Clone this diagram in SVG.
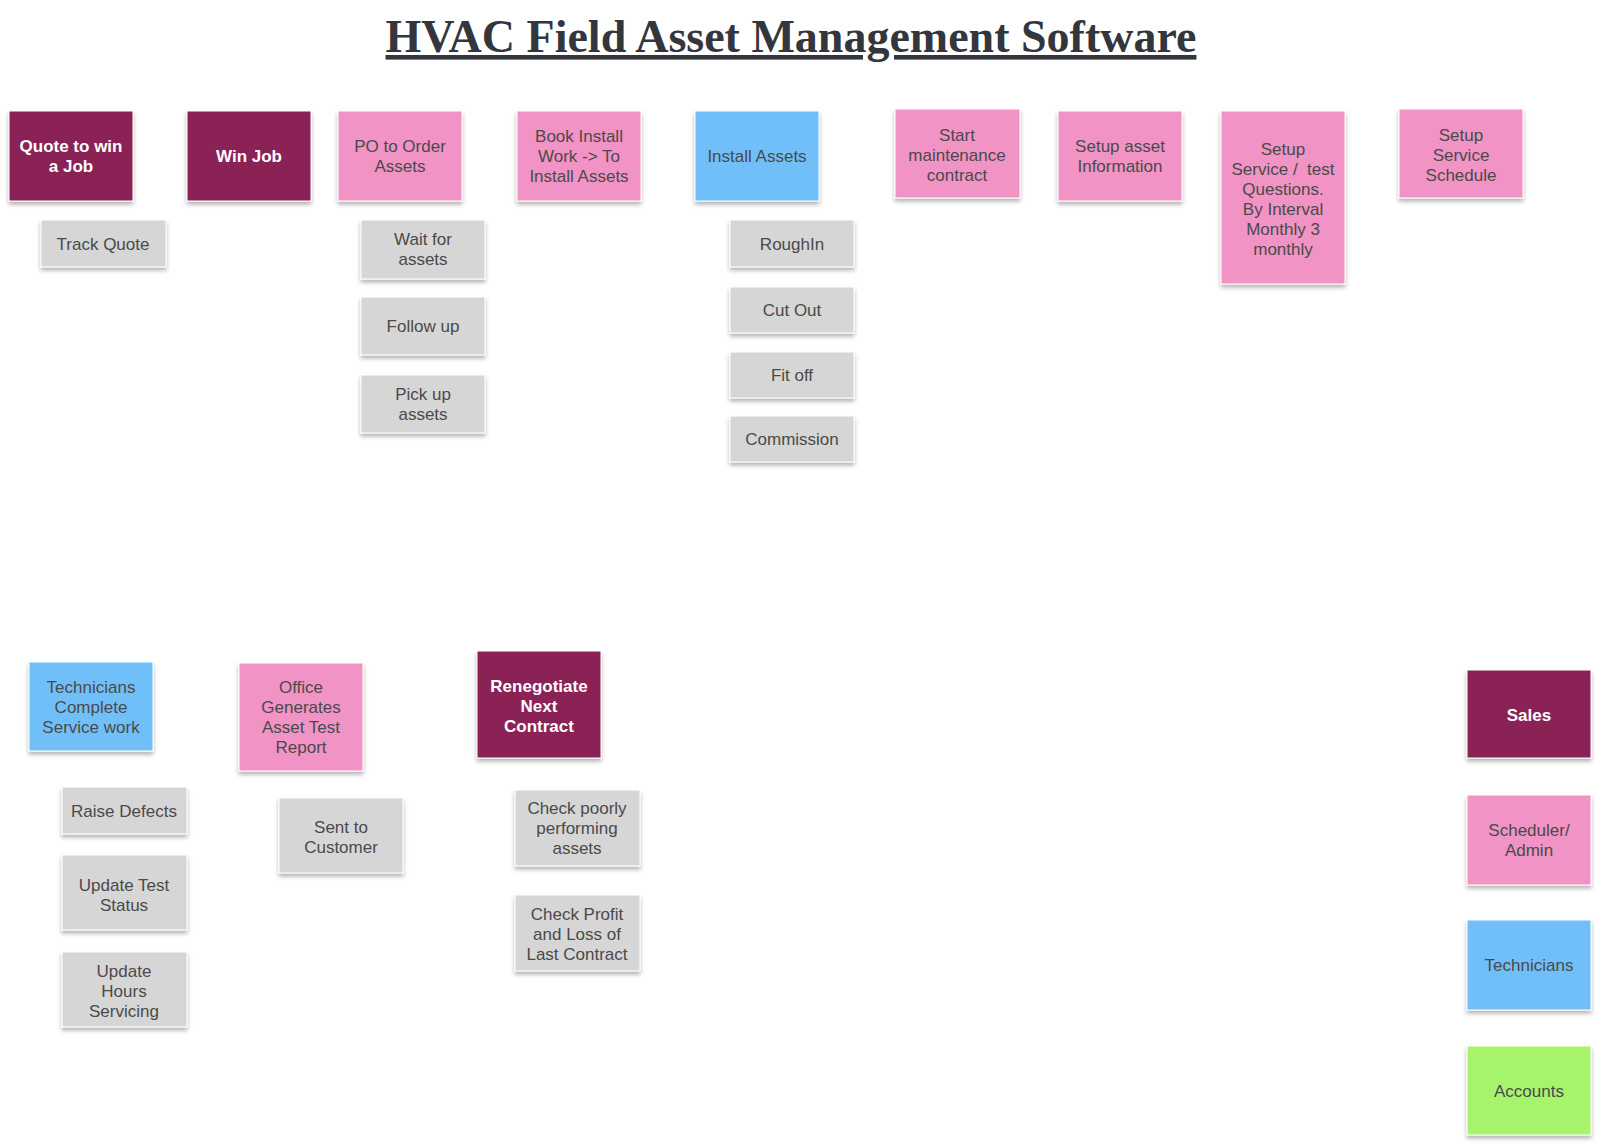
<svg xmlns="http://www.w3.org/2000/svg" width="1600" height="1147" viewBox="0 0 1600 1147">
<style>
.n rect{stroke:#ffffff;stroke-width:1;filter:url(#sh)}
.dk rect{fill:#8b2457}
.pk rect{fill:#f193c4}
.bl rect{fill:#6fbff9}
.gr rect{fill:#d6d6d6}
.gn rect{fill:#a6f46c}
.n text{font-family:"Liberation Sans",Arial,Helvetica,sans-serif;font-size:17px;text-anchor:middle;fill:#4a4a4a}
.dk text{fill:#ffffff;font-weight:bold}
.title{font-family:"Liberation Serif","Times New Roman",serif;font-weight:bold;font-size:46px;fill:#33363d;text-anchor:middle;text-decoration:underline}
</style>
<defs>
<filter id="sh" x="-20%" y="-20%" width="140%" height="150%">
<feDropShadow dx="0" dy="3" stdDeviation="2" flood-color="#000000" flood-opacity="0.3"/>
</filter>
</defs>
<rect width="1600" height="1147" fill="#ffffff"/>
<text class="title" x="791" y="52" id="title">HVAC Field Asset Management Software</text>
<g id="connectors"></g>

<g id="quote" class="n dk"><rect x="9" y="111" width="124" height="90"/><text x="71" y="152">Quote to win</text><text x="71" y="172">a Job</text></g>
<g id="winjob" class="n dk"><rect x="187" y="111" width="124" height="90"/><text x="249" y="162">Win Job</text></g>
<g id="po" class="n pk"><rect x="338" y="111" width="124" height="90"/><text x="400" y="152">PO to Order</text><text x="400" y="172">Assets</text></g>
<g id="book" class="n pk"><rect x="517" y="111" width="124" height="90"/><text x="579" y="142">Book Install</text><text x="579" y="162">Work -&gt; To</text><text x="579" y="182">Install Assets</text></g>
<g id="install" class="n bl"><rect x="695" y="111" width="124" height="90"/><text x="757" y="162">Install Assets</text></g>
<g id="startmaint" class="n pk"><rect x="895" y="109" width="125" height="89"/><text x="957" y="141">Start</text><text x="957" y="161">maintenance</text><text x="957" y="181">contract</text></g>
<g id="setupasset" class="n pk"><rect x="1058" y="111" width="124" height="90"/><text x="1120" y="152">Setup asset</text><text x="1120" y="172">Information</text></g>
<g id="setupservice" class="n pk"><rect x="1221" y="111" width="124" height="173"/><text x="1283" y="155">Setup</text><text x="1283" y="175" xml:space="preserve">Service /  test</text><text x="1283" y="195">Questions.</text><text x="1283" y="215">By Interval</text><text x="1283" y="235">Monthly 3</text><text x="1283" y="255">monthly</text></g>
<g id="setupschedule" class="n pk"><rect x="1399" y="109" width="124" height="89"/><text x="1461" y="141">Setup</text><text x="1461" y="161">Service</text><text x="1461" y="181">Schedule</text></g>

<g id="trackquote" class="n gr"><rect x="41" y="220" width="125" height="47"/><text x="103" y="250">Track Quote</text></g>
<g id="waitfor" class="n gr"><rect x="361" y="220" width="124" height="59"/><text x="423" y="245">Wait for</text><text x="423" y="265">assets</text></g>
<g id="followup" class="n gr"><rect x="361" y="297" width="124" height="58"/><text x="423" y="332">Follow up</text></g>
<g id="pickup" class="n gr"><rect x="361" y="375" width="124" height="58"/><text x="423" y="400">Pick up</text><text x="423" y="420">assets</text></g>
<g id="roughin" class="n gr"><rect x="730" y="220" width="124" height="47"/><text x="792" y="250">RoughIn</text></g>
<g id="cutout" class="n gr"><rect x="730" y="287" width="124" height="46"/><text x="792" y="316">Cut Out</text></g>
<g id="fitoff" class="n gr"><rect x="730" y="352" width="124" height="46"/><text x="792" y="381">Fit off</text></g>
<g id="commission" class="n gr"><rect x="730" y="416" width="124" height="46"/><text x="792" y="445">Commission</text></g>

<g id="techcomplete" class="n bl"><rect x="29" y="662" width="124" height="89"/><text x="91" y="693">Technicians</text><text x="91" y="713">Complete</text><text x="91" y="733">Service work</text></g>
<g id="office" class="n pk"><rect x="239" y="663" width="124" height="108"/><text x="301" y="693">Office</text><text x="301" y="713">Generates</text><text x="301" y="733">Asset Test</text><text x="301" y="753">Report</text></g>
<g id="renegotiate" class="n dk"><rect x="477" y="651" width="124" height="107"/><text x="539" y="692">Renegotiate</text><text x="539" y="712">Next</text><text x="539" y="732">Contract</text></g>
<g id="raise" class="n gr"><rect x="62" y="787" width="125" height="47"/><text x="124" y="817">Raise Defects</text></g>
<g id="updatetest" class="n gr"><rect x="62" y="855" width="125" height="75"/><text x="124" y="891">Update Test</text><text x="124" y="911">Status</text></g>
<g id="updatehours" class="n gr"><rect x="62" y="952" width="125" height="75"/><text x="124" y="977">Update</text><text x="124" y="997">Hours</text><text x="124" y="1017">Servicing</text></g>
<g id="sent" class="n gr"><rect x="279" y="798" width="124" height="75"/><text x="341" y="833">Sent to</text><text x="341" y="853">Customer</text></g>
<g id="checkpoorly" class="n gr"><rect x="515" y="790" width="125" height="76"/><text x="577" y="814">Check poorly</text><text x="577" y="834">performing</text><text x="577" y="854">assets</text></g>
<g id="checkprofit" class="n gr"><rect x="515" y="895" width="125" height="76"/><text x="577" y="920">Check Profit</text><text x="577" y="940">and Loss of</text><text x="577" y="960">Last Contract</text></g>

<g id="sales" class="n dk"><rect x="1467" y="670" width="124" height="88"/><text x="1529" y="721">Sales</text></g>
<g id="scheduler" class="n pk"><rect x="1467" y="795" width="124" height="90"/><text x="1529" y="836">Scheduler/</text><text x="1529" y="856">Admin</text></g>
<g id="technicians" class="n bl"><rect x="1467" y="920" width="124" height="90"/><text x="1529" y="971">Technicians</text></g>
<g id="accounts" class="n gn"><rect x="1467" y="1046" width="124" height="89"/><text x="1529" y="1097">Accounts</text></g>
</svg>
